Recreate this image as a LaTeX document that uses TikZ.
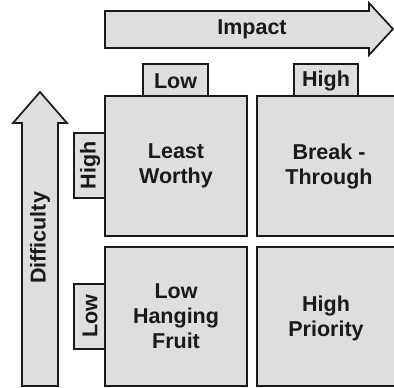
\documentclass[tikz,border=0pt]{standalone}
\usepackage{fontspec}
\setmainfont{Liberation Sans}
\begin{document}
\begin{tikzpicture}[x=1pt,y=-1pt,
  shapefill/.style={fill=boxgray,draw=black!90,line width=1.7pt,line join=miter},
  label/.style={font=\fontsize{21.5}{25}\selectfont\bfseries,text=black!90,align=center,inner sep=0pt},
  ]
\definecolor{boxgray}{HTML}{DEDEDE}
\useasboundingbox (0,0) rectangle (394,388);
\clip (0,0) rectangle (394,388);

% Impact arrow (horizontal)
\draw[shapefill] (105,11) -- (369,11) -- (369,3) -- (393,29) -- (369,55) -- (369,48) -- (105,48) -- cycle;
\node[label] (impact) at (252,29.5) {Impact};

% Difficulty arrow (vertical)
\draw[shapefill] (22,386) -- (22,123) -- (13,123) -- (40,92) -- (67,123) -- (58,123) -- (58,386) -- cycle;
\node[label,rotate=90] (difficulty) at (40,238) {Difficulty};

% Impact level tabs
\draw[shapefill] (143,96) rectangle (208,64);
\node[label] (tlow) at (175.5,81) {Low};
\draw[shapefill] (294,96) rectangle (358,64);
\node[label] (thigh) at (326,81) {High};

% Difficulty level tabs
\draw[shapefill] (106,133) rectangle (74,198);
\node[label,rotate=90] (lhigh) at (90,165.5) {High};
\draw[shapefill] (106,284) rectangle (74,349);
\node[label,rotate=90] (llow) at (90,316.5) {Low};

% Quadrants
\draw[shapefill] (105,96) rectangle (247,236);
\node[label] (lw) at (176,166) {Least\\Worthy};
\draw[shapefill] (257,96) rectangle (399,236);
\node[label] (bt) at (329,166) {Break -\\Through};
\draw[shapefill] (105,247) rectangle (247,386);
\node[label] (lhf) at (176,316.5) {Low\\Hanging\\Fruit};
\draw[shapefill] (257,247) rectangle (399,386);
\node[label] (hp) at (326,318) {High\\Priority};
\end{tikzpicture}
\end{document}
